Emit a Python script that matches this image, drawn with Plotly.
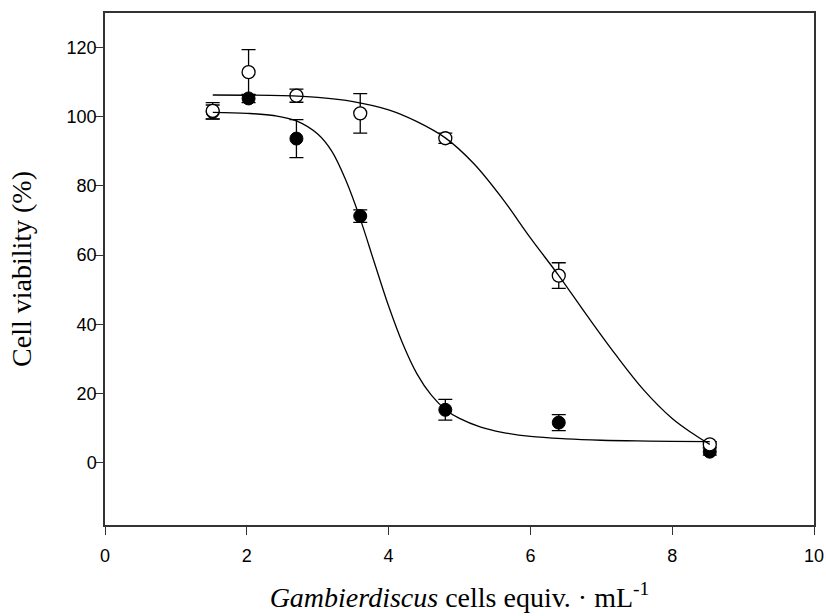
import plotly.graph_objects as go

# Data
conc = [1.519, 2.025, 2.70, 3.60, 4.80, 6.40, 8.53]
filled_y = [101.4, 105.3, 93.7, 71.3, 15.3, 11.6, 3.2]
filled_err = [2.0, 1.2, 5.5, 1.8, 3.0, 2.3, 1.0]
open_y = [101.7, 112.9, 106.1, 101.0, 93.8, 54.1, 5.3]
open_err = [2.4, 6.5, 1.9, 5.7, 1.5, 3.7, 0.8]

# Fitted curves
fit_filled_x = [1.52, 2.0, 2.4, 2.7, 3.0, 3.2, 3.4, 3.6, 3.8, 4.0, 4.2, 4.4, 4.6, 4.8,
                5.0, 5.3, 5.6, 6.0, 6.5, 7.0, 7.5, 8.0, 8.53]
fit_filled_y = [101.3, 101.0, 100.3, 98.8, 95.0, 90.0, 81.5, 70.5, 57.8, 45.3, 34.4, 25.7,
                19.6, 15.4, 12.8, 10.3, 8.8, 7.6, 6.9, 6.5, 6.3, 6.2, 6.1]
fit_open_x = [1.52, 2.5, 3.0, 3.5, 4.0, 4.4, 4.8, 5.2, 5.6, 6.0, 6.4, 6.8, 7.2, 7.6,
              8.0, 8.3, 8.53]
fit_open_y = [106.3, 106.1, 105.6, 104.4, 102.0, 98.6, 93.9, 86.5, 76.5, 65.0, 54.1, 42.5,
              31.3, 21.0, 12.8, 8.3, 5.3]

x_ticks = [0, 2, 4, 6, 8, 10]
y_ticks = [0, 20, 40, 60, 80, 100, 120]

fig = go.Figure()

err_style = dict(type="data", visible=True, color="black", thickness=1.3, width=7)

fig.add_trace(go.Scatter(
    x=conc, y=filled_y, mode="markers",
    error_y=dict(array=filled_err, **err_style),
    marker=dict(symbol="circle", size=13, color="black", line=dict(color="black", width=1)),
    showlegend=False))
fig.add_trace(go.Scatter(
    x=conc, y=open_y, mode="markers",
    error_y=dict(array=open_err, **err_style),
    marker=dict(symbol="circle", size=13, color="white", line=dict(color="black", width=1.3)),
    showlegend=False))
fig.add_trace(go.Scatter(
    x=fit_filled_x, y=fit_filled_y, mode="lines",
    line=dict(color="black", width=1.3, shape="spline", smoothing=1.0),
    showlegend=False))
fig.add_trace(go.Scatter(
    x=fit_open_x, y=fit_open_y, mode="lines",
    line=dict(color="black", width=1.3, shape="spline", smoothing=1.0),
    showlegend=False))

axis_common = dict(
    showline=True, linecolor="#333333", linewidth=1.5, mirror=True,
    ticks="outside", ticklen=8, tickwidth=1.2, tickcolor="#333333",
    showgrid=False, zeroline=False, automargin=False,
    tickfont=dict(family="Liberation Sans, Arial, sans-serif", size=18, color="black"),
)
title_font = dict(family="Liberation Serif, Times New Roman, serif", size=28, color="black")

fig.update_xaxes(range=[0, 10], tickvals=x_ticks, ticktext=[str(v) for v in x_ticks],
                 ticklabelstandoff=6,
                 title=dict(text="<i>Gambierdiscus</i> cells equiv. · mL<sup>-1</sup>",
                            font=title_font, standoff=22),
                 **axis_common)
fig.update_yaxes(range=[-18, 130], tickvals=y_ticks, ticktext=[str(v) for v in y_ticks],
                 ticklabelstandoff=-5,
                 title=dict(text="Cell viability (%)", font=title_font, standoff=27),
                 **axis_common)

fig.update_layout(
    width=826, height=616,
    margin=dict(l=105, r=12, t=13, b=91),
    paper_bgcolor="white", plot_bgcolor="white",
)

fig.write_html("out.html")
